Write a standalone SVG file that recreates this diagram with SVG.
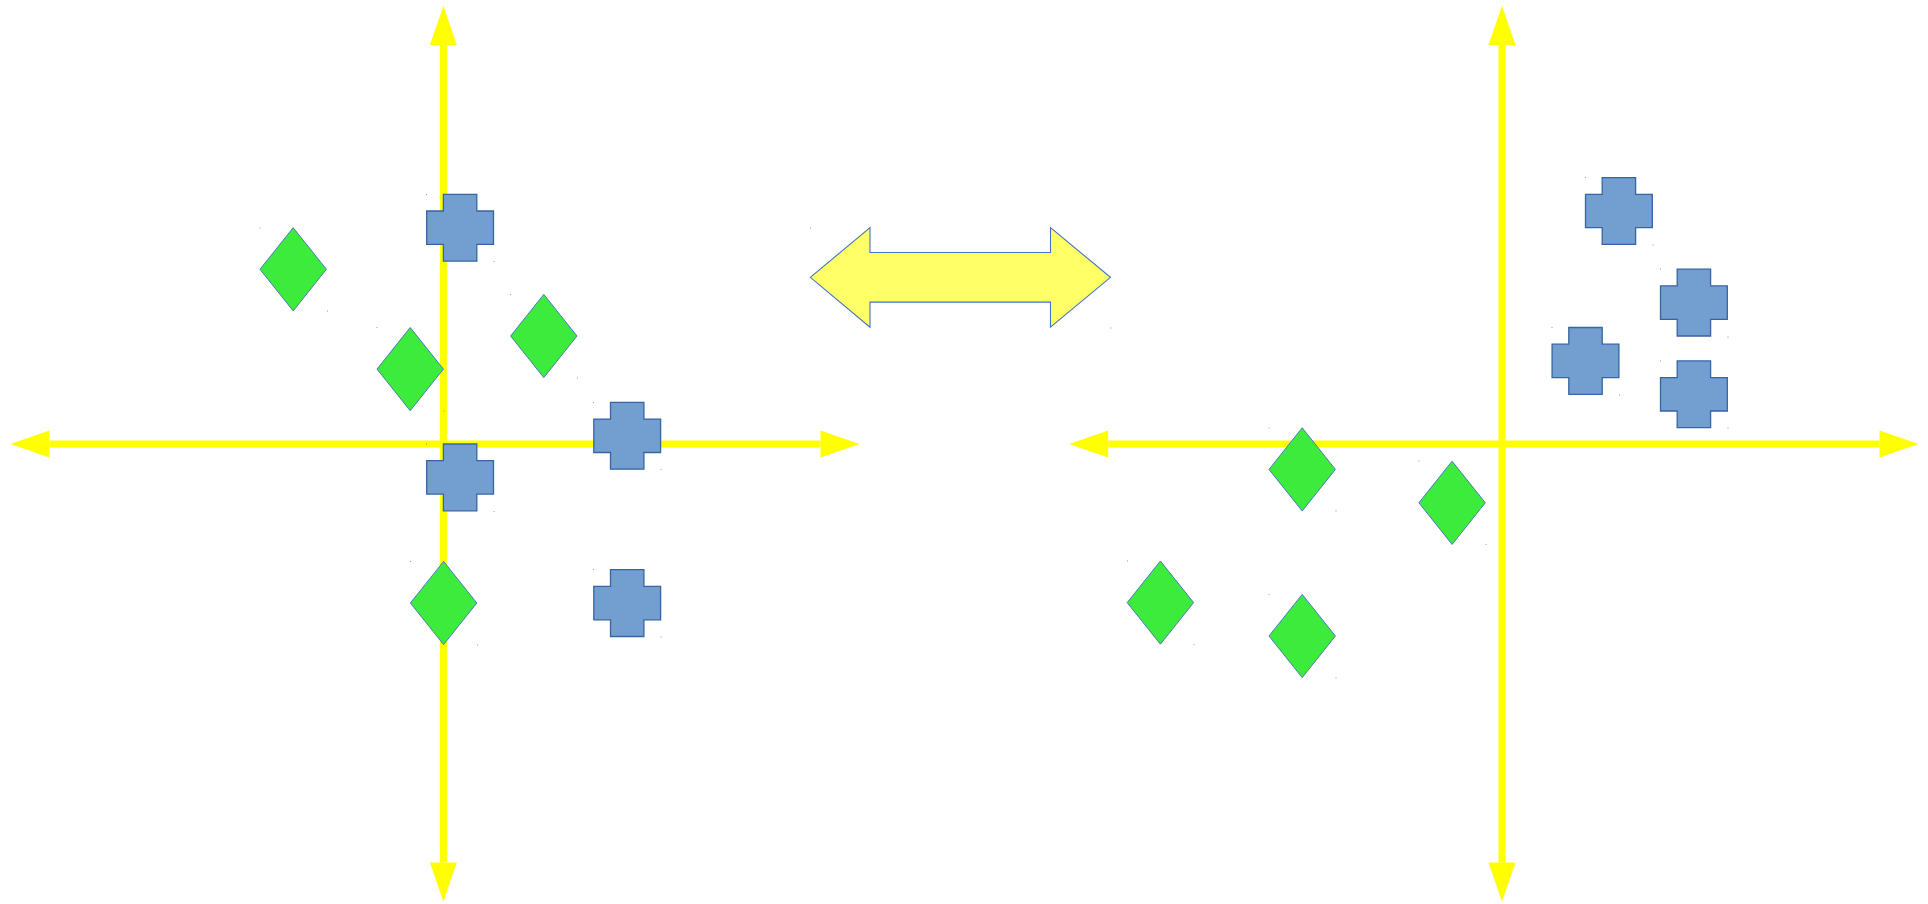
<svg xmlns="http://www.w3.org/2000/svg" xmlns:xlink="http://www.w3.org/1999/xlink" width="1928" height="904" viewBox="0 0 1928 904">
  <style>
    .axis { stroke: #ffff00; stroke-width: 7; fill: none; }
    .cross { fill: #729fcf; stroke: #3465a4; stroke-width: 1.3; }
    .diamond { fill: #3deb3d; stroke: #4a7ab8; stroke-width: 1; }
    .dbl { fill: #ffff66; stroke: #4472c4; stroke-width: 1.1; }
    .dot { fill: #4472c4; opacity: 0.7; }
  </style>
  <defs>
    <marker id="ah" markerUnits="userSpaceOnUse" markerWidth="40" markerHeight="28" refX="0" refY="13.5" orient="auto-start-reverse" viewBox="0 0 40 27" overflow="visible">
      <path d="M0,0 L39,13.5 L0,27 Z" fill="#ffff00"/>
    </marker>
    <path id="cross" d="M16.7,0 H50.1 V16.7 H66.8 V50.1 H50.1 V66.8 H16.7 V50.1 H0 V16.7 H16.7 Z"/>
    <path id="diamond" d="M33.2,0 L66.4,41.6 L33.2,83.2 L0,41.6 Z"/>
  </defs>
  <rect width="1928" height="904" fill="#ffffff"/>

  <g id="connectors">
    <line class="axis" x1="49.5" y1="444" x2="820.5" y2="444" marker-start="url(#ah)" marker-end="url(#ah)"/>
    <line class="axis" x1="443.4" y1="45" x2="443.4" y2="862.5" marker-start="url(#ah)" marker-end="url(#ah)"/>
    <line class="axis" x1="1108.2" y1="444" x2="1879.5" y2="444" marker-start="url(#ah)" marker-end="url(#ah)"/>
    <line class="axis" x1="1502" y1="45" x2="1502" y2="862.5" marker-start="url(#ah)" marker-end="url(#ah)"/>
  </g>

  <!-- left plot -->
  <g id="cross-a"><use href="#cross" class="cross" x="426.7" y="194.3"/><rect class="dot" x="426" y="194" width="1" height="1"/><rect class="dot" x="493.5" y="261" width="1" height="1"/></g>
  <g id="diamond-1"><use href="#diamond" class="diamond" x="260" y="227.7"/><rect class="dot" x="259.5" y="227.5" width="1" height="1"/><rect class="dot" x="327" y="310.5" width="1" height="1"/></g>
  <g id="diamond-2"><use href="#diamond" class="diamond" x="377" y="327.5"/><rect class="dot" x="376.5" y="327" width="1" height="1"/><rect class="dot" x="443.5" y="410.5" width="1" height="1"/></g>
  <g id="diamond-3"><use href="#diamond" class="diamond" x="510.6" y="294.4"/><rect class="dot" x="510" y="294" width="1" height="1"/><rect class="dot" x="577" y="377.5" width="1" height="1"/></g>
  <g id="cross-b"><use href="#cross" class="cross" x="593.8" y="402.4"/><rect class="dot" x="593" y="402" width="1" height="1"/><rect class="dot" x="660.5" y="469" width="1" height="1"/></g>
  <g id="cross-c"><use href="#cross" class="cross" x="426.7" y="444"/><rect class="dot" x="426" y="443.5" width="1" height="1"/><rect class="dot" x="493.5" y="511" width="1" height="1"/></g>
  <g id="diamond-4"><use href="#diamond" class="diamond" x="410.4" y="561.4"/><rect class="dot" x="410" y="561" width="1" height="1"/><rect class="dot" x="477" y="644.5" width="1" height="1"/></g>
  <g id="cross-d"><use href="#cross" class="cross" x="593.8" y="569.7"/><rect class="dot" x="593" y="569" width="1" height="1"/><rect class="dot" x="660.5" y="636.5" width="1" height="1"/></g>

  <!-- double arrow -->
  <g id="double-arrow">
    <polygon class="dbl" points="810.3,277.3 870,227.7 870,252.5 1050.5,252.5 1050.5,227.7 1110.5,277.3 1050.5,327.2 1050.5,302.1 870,302.1 870,327.2"/>
    <rect class="dot" x="810" y="227.5" width="1" height="1"/><rect class="dot" x="1110.5" y="327.5" width="1" height="1"/>
  </g>

  <!-- right plot -->
  <g id="cross-e"><use href="#cross" class="cross" x="1585.5" y="177.6"/><rect class="dot" x="1585" y="177" width="1" height="1"/><rect class="dot" x="1652.5" y="244.5" width="1" height="1"/></g>
  <g id="cross-f"><use href="#cross" class="cross" x="1660.5" y="269.2"/><rect class="dot" x="1660" y="268.5" width="1" height="1"/><rect class="dot" x="1727.5" y="336.5" width="1" height="1"/></g>
  <g id="cross-g"><use href="#cross" class="cross" x="1552.1" y="327.5"/><rect class="dot" x="1551.5" y="327" width="1" height="1"/><rect class="dot" x="1619" y="394.5" width="1" height="1"/></g>
  <g id="cross-h"><use href="#cross" class="cross" x="1660.5" y="360.9"/><rect class="dot" x="1660" y="360.5" width="1" height="1"/><rect class="dot" x="1727.5" y="427.5" width="1" height="1"/></g>
  <g id="diamond-5"><use href="#diamond" class="diamond" x="1269" y="427.8"/><rect class="dot" x="1268.5" y="427.5" width="1" height="1"/><rect class="dot" x="1335.5" y="510.5" width="1" height="1"/></g>
  <g id="diamond-6"><use href="#diamond" class="diamond" x="1418.9" y="461.2"/><rect class="dot" x="1418.5" y="460.5" width="1" height="1"/><rect class="dot" x="1485.5" y="544" width="1" height="1"/></g>
  <g id="diamond-7"><use href="#diamond" class="diamond" x="1127.2" y="561"/><rect class="dot" x="1127" y="560.5" width="1" height="1"/><rect class="dot" x="1193.5" y="644" width="1" height="1"/></g>
  <g id="diamond-8"><use href="#diamond" class="diamond" x="1269" y="594.4"/><rect class="dot" x="1268.5" y="594" width="1" height="1"/><rect class="dot" x="1335.5" y="677.5" width="1" height="1"/></g>
</svg>
